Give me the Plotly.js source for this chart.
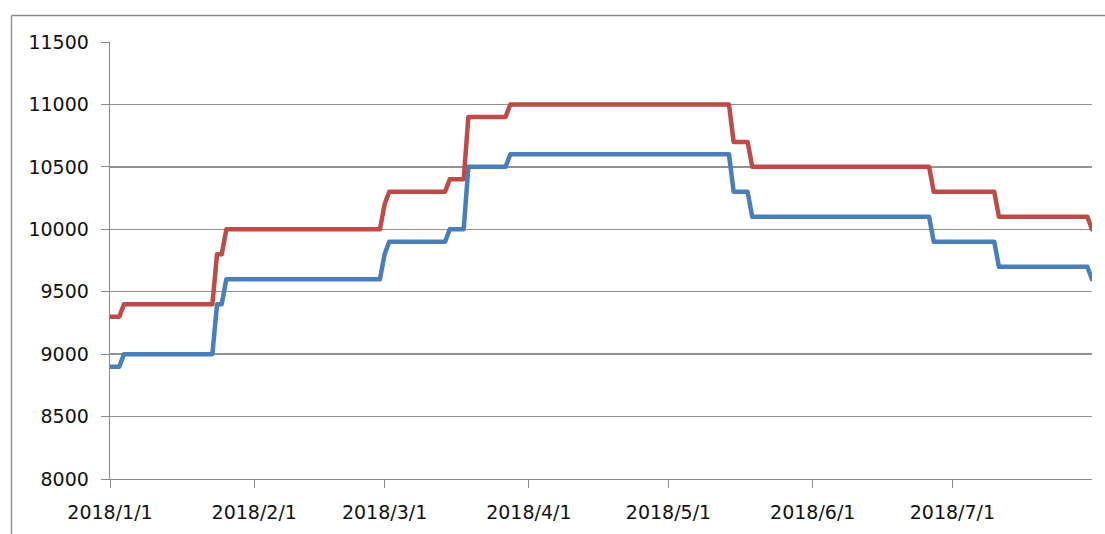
<!DOCTYPE html>
<html>
<head>
<meta charset="utf-8">
<script src="https://cdn.plot.ly/plotly-3.0.1.min.js"></script>
<style>
  html, body { margin: 0; padding: 0; background: #ffffff; }
  #chart { width: 1105px; height: 534px; }
  .scatterlayer path.js-line { stroke-linejoin: round; stroke-linecap: round; }
</style>
</head>
<body>
<div id="chart"></div>
<script>
// Breakpoint dates (the series are flat between consecutive dates)
const dates = [
  '2018-01-01','2018-01-03','2018-01-04','2018-01-23','2018-01-24','2018-01-25','2018-01-26',
  '2018-02-28','2018-03-01','2018-03-02','2018-03-14','2018-03-15','2018-03-18','2018-03-19',
  '2018-03-27','2018-03-28','2018-05-14','2018-05-15','2018-05-18','2018-05-19','2018-06-26',
  '2018-06-27','2018-07-10','2018-07-11','2018-07-30','2018-07-31'
];
const redSeries = [
  9300, 9300, 9400, 9400, 9800, 9800, 10000,
  10000, 10200, 10300, 10300, 10400, 10400, 10900,
  10900, 11000, 11000, 10700, 10700, 10500, 10500,
  10300, 10300, 10100, 10100, 10000
];
const blueSeries = [
  8900, 8900, 9000, 9000, 9400, 9400, 9600,
  9600, 9800, 9900, 9900, 10000, 10000, 10500,
  10500, 10600, 10600, 10300, 10300, 10100, 10100,
  9900, 9900, 9700, 9700, 9600
];
const xTickVals = ['2018-01-01','2018-02-01','2018-03-01','2018-04-01','2018-05-01','2018-06-01','2018-07-01'];
const xTickText = ['2018/1/1','2018/2/1','2018/3/1','2018/4/1','2018/5/1','2018/6/1','2018/7/1'];
const yTickVals = [8000, 8500, 9000, 9500, 10000, 10500, 11000, 11500];
const yTickText = ['8000','8500','9000','9500','10000','10500','11000','11500'];

const traces = [
  { x: dates, y: blueSeries, type: 'scatter', mode: 'lines', name: 'blue',
    line: { color: '#4A7EBB', width: 4.5 }, hoverinfo: 'skip' },
  { x: dates, y: redSeries, type: 'scatter', mode: 'lines', name: 'red',
    line: { color: '#BE4B48', width: 4.5 }, hoverinfo: 'skip' }
];

const L = 110, R = 13, T = 42, B = 55, W = 1105, H = 534;
const pw = W - L - R, ph = H - T - B;
const px = v => (v - L) / pw;
const py = v => 1 - (v - T) / ph;

const layout = {
  width: W, height: H,
  margin: { l: L, r: R, t: T, b: B, pad: 0 },
  paper_bgcolor: '#ffffff',
  plot_bgcolor: '#ffffff',
  showlegend: false,
  font: { family: 'DejaVu Sans', size: 19, color: '#111111' },
  xaxis: {
    type: 'date',
    range: ['2018-01-01', '2018-07-31'],
    tickmode: 'array', tickvals: xTickVals, ticktext: xTickText,
    ticks: 'outside', ticklen: 8, tickwidth: 1, tickcolor: '#8a8a8a',
    showgrid: false, zeroline: false,
    showline: true, linecolor: '#8a8a8a', linewidth: 1.3,
    ticklabelstandoff: 8,
    tickfont: { family: 'DejaVu Sans', size: 19, color: '#111111' },
    fixedrange: true
  },
  yaxis: {
    range: [8000, 11500],
    tickmode: 'array', tickvals: yTickVals, ticktext: yTickText,
    ticks: 'outside', ticklen: 8, tickwidth: 1, tickcolor: '#8a8a8a',
    showgrid: true, gridcolor: '#929292', gridwidth: 1.3,
    zeroline: false,
    showline: true, linecolor: '#8a8a8a', linewidth: 1.3,
    ticklabelstandoff: 8,
    tickfont: { family: 'DejaVu Sans', size: 19, color: '#111111' },
    fixedrange: true
  },
  shapes: [
    { type: 'line', xref: 'paper', yref: 'paper', x0: px(11.5), x1: px(1110), y0: py(15.5), y1: py(15.5),
      line: { color: '#8a8a8a', width: 1.3 } },
    { type: 'line', xref: 'paper', yref: 'paper', x0: px(11.5), x1: px(11.5), y0: py(15.5), y1: py(540),
      line: { color: '#8a8a8a', width: 1.3 } }
  ]
};

Plotly.newPlot('chart', traces, layout, { staticPlot: true, displayModeBar: false });
</script>
</body>
</html>
